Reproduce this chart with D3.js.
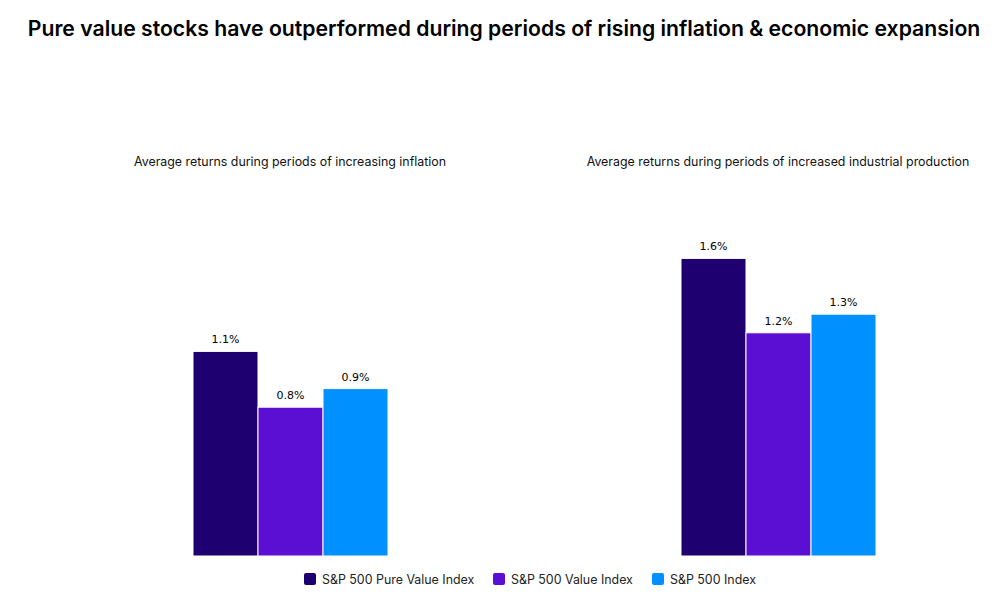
<!DOCTYPE html>
<html><head><meta charset="utf-8">
<script src="https://cdn.jsdelivr.net/npm/d3@7"></script>
<style>body{margin:0;background:#fff}svg{display:block}</style>
</head><body>
<svg id="c" width="1008" height="602"></svg>
<script>
const groups = ["Average returns during periods of increasing inflation", "Average returns during periods of increased industrial production"];
const seriesNames = ["S&P 500 Pure Value Index", "S&P 500 Value Index", "S&P 500 Index"];
const pureValue = [1.1, 1.6];
const value = [0.8, 1.2];
const sp500 = [0.9, 1.3];
const colors = ["#1e0070", "#5a0fd2", "#0090ff"];
const title = "Pure value stocks have outperformed during periods of rising inflation & economic expansion";

const svg = d3.select("#c");
const series = [pureValue, value, sp500];
const base = 556;
const y = d3.scaleLinear().domain([0, 1]).range([base, base - 186]);
const gx = d3.scaleOrdinal().domain(groups).range([193, 681]);
const bx = d3.scaleBand().domain(seriesNames).range([0, 195]).paddingInner(0);

svg.append("text").attr("x", 504).attr("y", 36).attr("text-anchor", "middle")
  .attr("font-family", "Inter, sans-serif").attr("font-weight", 600).attr("font-size", 21.2)
  .attr("fill", "#000").text(title);

groups.forEach((g, gi) => {
  const gg = svg.append("g").attr("transform", `translate(${gx(g)},0)`);
  gg.append("text").attr("x", 97).attr("y", 166).attr("text-anchor", "middle")
    .attr("font-family", "Inter, sans-serif").attr("font-size", 12.4).attr("fill", "#111").text(g);
  seriesNames.forEach((s, si) => {
    const v = series[si][gi];
    gg.append("rect").attr("x", bx(s)).attr("y", y(v)).attr("width", bx.bandwidth())
      .attr("height", base - y(v)).attr("fill", colors[si]).attr("stroke", "#fff").attr("stroke-width", 1);
    gg.append("text").attr("x", bx(s) + bx.bandwidth() / 2).attr("y", y(v) - 8)
      .attr("text-anchor", "middle").attr("font-family", "DejaVu Sans, sans-serif").attr("font-size", 11)
      .attr("fill", "#000").text(v.toFixed(1) + "%");
  });
});

const legX = [304, 493, 652];
seriesNames.forEach((s, i) => {
  svg.append("rect").attr("x", legX[i]).attr("y", 573).attr("width", 12).attr("height", 12).attr("rx", 2).attr("fill", colors[i]);
  svg.append("text").attr("x", legX[i] + 18).attr("y", 584).attr("font-family", "Inter, sans-serif")
    .attr("font-size", 12.4).attr("fill", "#222").text(s);
});
</script>
</body></html>
